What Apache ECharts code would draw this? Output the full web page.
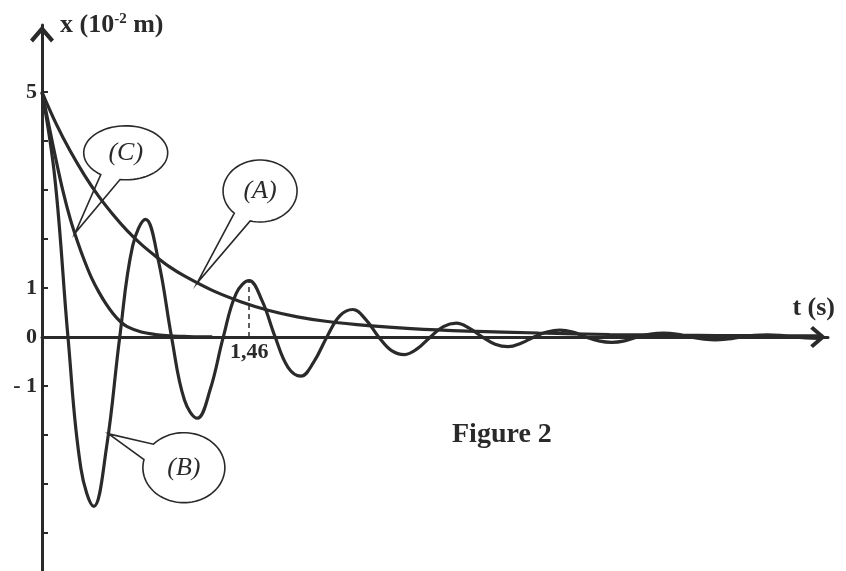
<!DOCTYPE html>
<html><head><meta charset="utf-8">
<script src="https://cdn.jsdelivr.net/npm/echarts@6.0.0/dist/echarts.min.js"></script>
<style>html,body{margin:0;padding:0;background:#fff}#c{width:846px;height:571px}</style>
</head><body><div id="c"></div>
<script>
// Curve (A): aperiodic decay
const tA = [0,0.1,0.2,0.3,0.4,0.5,0.6,0.7,0.8,0.9,1.0,1.2,1.4,1.6,1.8,2.0,2.3,2.6,3.0,3.5,4.0,4.5,5.0,5.5];
const xA = [5,4.35,3.79,3.30,2.87,2.50,2.17,1.89,1.65,1.43,1.25,0.95,0.72,0.54,0.41,0.32,0.23,0.17,0.12,0.08,0.05,0.035,0.025,0.02];
// Curve (B): damped oscillation
const tB = [0,0.091,0.183,0.274,0.365,0.456,0.548,0.639,0.73,0.821,0.913,1.004,1.095,1.186,1.278,1.369,1.46,1.551,1.643,1.734,1.825,1.916,2.008,2.099,2.19,2.281,2.373,2.464,2.555,2.646,2.738,2.829,2.92,3.011,3.103,3.194,3.285,3.376,3.468,3.559,3.65,3.741,3.833,3.924,4.015,4.106,4.198,4.289,4.38,4.471,4.563,4.654,4.745,4.836,4.928,5.019,5.11,5.201,5.293,5.384,5.475];
const xB = [5.00,3.23,0,-2.68,-3.46,-2.23,0,1.86,2.40,1.55,0,-1.29,-1.66,-1.07,0,0.89,1.15,0.74,0,-0.62,-0.80,-0.51,0,0.43,0.56,0.36,0,-0.28,-0.36,-0.24,0,0.21,0.28,0.18,0,-0.15,-0.2,-0.13,0,0.1,0.14,0.1,0,-0.08,-0.11,-0.08,0,0.06,0.08,0.06,0,-0.04,-0.06,-0.04,0,0.03,0.04,0.03,0,-0.02,-0.03];
// Curve (C): critical decay
const tC = [0,0.05,0.1,0.15,0.2,0.25,0.3,0.35,0.4,0.45,0.5,0.55,0.6,0.7,0.8,0.9,1.0,1.1,1.2];
const xC = [5,4.3,3.6,2.95,2.4,1.95,1.55,1.2,0.92,0.68,0.48,0.32,0.21,0.1,0.05,0.02,0.01,0,0];

const yTickValues = [-4,-3,-2,-1,0,1,2,3,4,5];
const yLabelValues = [-1,0,1,5];
const peakT = 1.46, peakX = 1.15;
const peakLabel = '1,46';
const bubbles = [
  {label:'(C)', center:[0.59,3.76], tip:[0.233,2.12], rx:42, ry:27},
  {label:'(A)', center:[1.537,2.98], tip:[1.093,1.10], rx:37, ry:31},
  {label:'(B)', center:[1.0,-2.67], tip:[0.47,-1.98], rx:41, ry:35}
];

const INK = '#2a2a2a';
const SERIF = "'Liberation Serif','Times New Roman',serif";
const chevron = 'path://M0,0 L12,14 L9,17 L0,6.5 L-9,17 L-12,14 Z';
const zip = (t, v) => t.map((x, i) => [x, v[i]]);

const chart = echarts.init(document.getElementById('c'), null, {renderer:'canvas'});
const lineStyle = {color: INK, width: 3.2};
const option = {
  backgroundColor: '#fff',
  animation: false,
  title: {text:'Figure 2', left:452, top:421, padding:0,
    textStyle:{fontFamily:SERIF, fontWeight:'bold', fontSize:28, color:INK}},
  grid: {left:42, right:18, top:25, bottom:0, containLabel:false, outerBoundsMode:'none'},
  xAxis: {
    type:'value', min:0, max:5.54,
    axisLine:{onZero:true, lineStyle:{color:INK, width:3}, symbol:['none', chevron], symbolSize:[22,20], symbolOffset:[0,-10]},
    axisTick:{show:false},
    axisLabel:{show:false},
    splitLine:{show:false},
    name:'t (s)', nameLocation:'end', nameGap:7,
    nameTextStyle:{align:'right', verticalAlign:'bottom', padding:[0,0,16,0], color:INK,
      fontFamily:SERIF, fontWeight:'bold', fontSize:26}
  },
  yAxis: {
    type:'value', min:-4.78, max:6.37,
    axisLine:{show:true, onZero:false, lineStyle:{color:INK, width:3}, symbol:['none', chevron], symbolSize:[24,18], symbolOffset:[0,-9]},
    axisTick:{show:true, inside:true, length:6, lineStyle:{color:INK, width:2}, customValues:yTickValues},
    axisLabel:{customValues:yLabelValues, formatter:v => v < 0 ? '- ' + Math.abs(v) : String(v), color:INK,
      fontFamily:SERIF, fontWeight:'bold', fontSize:22, margin:5},
    splitLine:{show:false},
    name:'{a|x (10}{s|-2}{a| m)}', nameLocation:'end', nameGap:0,
    nameTextStyle:{align:'left', verticalAlign:'middle', padding:[0,0,0,18],
      rich:{
        a:{fontFamily:SERIF, fontWeight:'bold', fontSize:26, color:INK},
        s:{fontFamily:SERIF, fontWeight:'bold', fontSize:15, color:INK, verticalAlign:'top'}
      }}
  },
  series: [
    {name:'A', type:'line', data:zip(tA, xA), smooth:0.35, symbol:'none', lineStyle, z:3, silent:true},
    {name:'B', type:'line', data:zip(tB, xB), smooth:0.4, symbol:'none', lineStyle, z:3, silent:true,
      markLine:{silent:true, symbol:['none','none'],
        label:{show:true, position:'start', formatter:peakLabel, distance:4, color:INK,
          fontFamily:SERIF, fontWeight:'bold', fontSize:22},
        lineStyle:{type:[5,4], color:INK, width:1.5},
        data:[[{coord:[peakT,0]},{coord:[peakT,peakX]}]]}},
    {name:'C', type:'line', data:zip(tC, xC), smooth:0.35, symbol:'none', lineStyle, z:3, silent:true}
  ]
};
chart.setOption(option);

const g = [];
bubbles.forEach(b => {
  const c = chart.convertToPixel({gridIndex:0}, b.center);
  const p = chart.convertToPixel({gridIndex:0}, b.tip);
  const th = Math.atan2((p[1]-c[1])/b.ry, (p[0]-c[0])/b.rx);
  const d = 0.25, n = 72;
  const pts = [p];
  for (let i = 0; i <= n; i++) {
    const a = th + d + (2*Math.PI - 2*d) * i / n;
    pts.push([c[0] + b.rx*Math.cos(a), c[1] + b.ry*Math.sin(a)]);
  }
  g.push({type:'polygon', shape:{points:pts}, style:{fill:'#fff', stroke:INK, lineWidth:1.6}, z:1, silent:true});
  g.push({type:'text', x:c[0], y:c[1], style:{text:b.label, align:'center', verticalAlign:'middle',
    fontFamily:SERIF, fontStyle:'italic', fontSize:26, fill:INK}, z:2, silent:true});
});
chart.setOption({graphic:g});
</script>
</body></html>
